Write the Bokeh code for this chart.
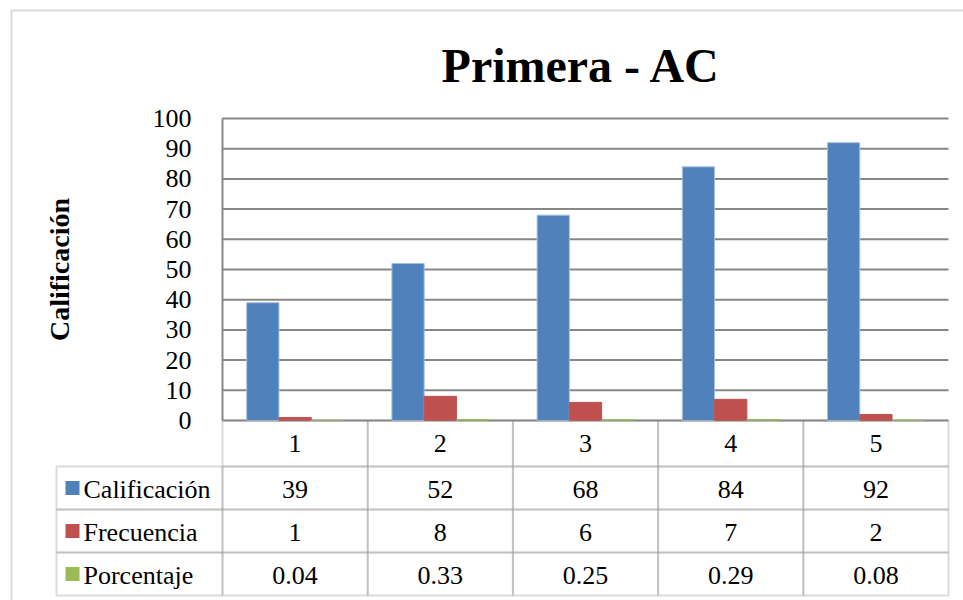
from bokeh.plotting import figure
from bokeh.models import Range1d, FixedTicker, BoxAnnotation, LinearAxis
from bokeh.core.properties import value
from bokeh.embed import file_html
from bokeh.resources import INLINE

# --- data -------------------------------------------------------------
categories = [1, 2, 3, 4, 5]
calificacion = [39, 52, 68, 84, 92]
frecuencia = [1, 8, 6, 7, 2]
porcentaje = [0.04, 0.33, 0.25, 0.29, 0.08]
porcentaje_labels = ["0.04", "0.33", "0.25", "0.29", "0.08"]

series_names = ["Calificación", "Frecuencia", "Porcentaje"]
series_colors = ["#4F81BD", "#C0504D", "#9BBB59"]
y_ticks = [0, 10, 20, 30, 40, 50, 60, 70, 80, 90, 100]
chart_title = "Primera - AC"
y_axis_title = "Calificación"

# --- page geometry (pixels) ------------------------------------------
W, H = 963, 600
PLOT_L, PLOT_R, PLOT_T, PLOT_B = 222, 948, 118, 420
FONT = "Liberation Serif"
GRID = "#878787"

n = len(categories)
y_min, y_max = y_ticks[0], y_ticks[-1]
px_per_cat = (PLOT_R - PLOT_L) / n
px_per_unit = (PLOT_B - PLOT_T) / (y_max - y_min)


def dx(px):
    """page x pixel -> category units"""
    return (px - PLOT_L) / px_per_cat


def dy(py):
    """page y pixel (from top) -> value units"""
    return (PLOT_B - py) / px_per_unit


# the frame covers the whole page; the ranges are stretched so that the
# value area 0..n x 0..100 lands on the plot rectangle
x_range = Range1d(dx(0), dx(W))
y_range = Range1d(dy(H), dy(0))

p = figure(width=W, height=H, output_backend="svg", toolbar_location=None,
           x_range=x_range, y_range=y_range,
           x_axis_location=None, y_axis_location=None, min_border=0)
p.outline_line_color = None
p.background_fill_color = "white"
p.border_fill_color = "white"
p.xgrid.visible = False
p.ygrid.visible = False

# value axis pinned to the left edge of the plot rectangle
ax = LinearAxis(fixed_location=0, bounds=(y_min, y_max),
                ticker=FixedTicker(ticks=y_ticks))
ax.major_tick_line_color = None
ax.minor_tick_line_color = None
ax.axis_line_color = GRID
ax.axis_line_width = 2
ax.major_label_text_font = FONT
ax.major_label_text_font_size = "26px"
ax.major_label_text_color = "black"
ax.major_label_standoff = 25
ax.axis_label = y_axis_title
ax.axis_label_text_font = FONT
ax.axis_label_text_font_style = "bold"
ax.axis_label_text_font_size = "28px"
ax.axis_label_text_color = "black"
ax.axis_label_standoff = 75
p.add_layout(ax, "left")

# horizontal gridlines across the plot rectangle
p.segment(x0=[0] * len(y_ticks), x1=[n] * len(y_ticks), y0=y_ticks, y1=y_ticks,
          line_color=GRID, line_width=2)

# grouped bars: one bar per series inside each category slot
gap_ratio = 1.5
bar_w = 1.0 / (len(series_names) + gap_ratio)
centers = [c - 0.5 for c in categories]
series_values = [calificacion, frecuencia, porcentaje]
edge_colors = ["#A7C0DE", "#C0504D", "#9BBB59"]
for k, (vals, col, edge) in enumerate(zip(series_values, series_colors, edge_colors)):
    offset = (k - 1) * bar_w
    p.vbar(x=[c + offset for c in centers], top=vals, bottom=0, width=bar_w,
           fill_color=col, line_color=edge, line_width=1)

# --- title ------------------------------------------------------------
p.text(x=[dx(581)], y=[dy(65)], text=[chart_title], text_font=value(FONT),
       text_font_style="bold", text_font_size="48px", text_align="center",
       text_baseline="middle", text_color="black")

# --- data table under the plot ---------------------------------------
TABLE_LEFT = 56
row_edges = [PLOT_B, 466, 509, 552, 595]   # header row + one row per series


def cell(left, right, top, bottom, left_units="data"):
    p.add_layout(BoxAnnotation(left=left, right=right, top=top, bottom=bottom,
                               left_units=left_units, right_units="data",
                               top_units="canvas", bottom_units="canvas",
                               fill_color=None, fill_alpha=0,
                               line_color=GRID, line_width=2))


def write(xs, y_px, labels, align="center"):
    p.text(x=xs, y=[dy(y_px)] * len(xs), text=labels, text_font=value(FONT),
           text_font_size="26px", text_color="black",
           text_align=align, text_baseline="middle")


# header row with the category names
for i in range(n):
    cell(i, i + 1, row_edges[0], row_edges[1])
write(centers, (row_edges[0] + row_edges[1]) / 2, [str(c) for c in categories])

row_texts = [[str(v) for v in calificacion], [str(v) for v in frecuencia], porcentaje_labels]
for r, (name, col, labels) in enumerate(zip(series_names, series_colors, row_texts)):
    top, bottom = row_edges[r + 1], row_edges[r + 2]
    mid = (top + bottom) / 2
    # series name cell with its colour key
    cell(TABLE_LEFT, 0, top, bottom, left_units="canvas")
    p.add_layout(BoxAnnotation(left=65, right=79, top=mid - 7, bottom=mid + 7,
                               left_units="canvas", right_units="canvas",
                               top_units="canvas", bottom_units="canvas",
                               fill_color=col, fill_alpha=1, line_color=None))
    write([dx(83)], mid + 1, [name], align="left")
    for i in range(n):
        cell(i, i + 1, top, bottom)
    write(centers, mid + 1, labels)

# outer chart border (right and bottom edges fall off the page)
p.add_layout(BoxAnnotation(left=11, right=W + 10, top=10, bottom=H + 10,
                           left_units="canvas", right_units="canvas",
                           top_units="canvas", bottom_units="canvas",
                           fill_color=None, fill_alpha=0,
                           line_color=GRID, line_width=2))

open("out.html", "w").write(file_html(p, INLINE))
